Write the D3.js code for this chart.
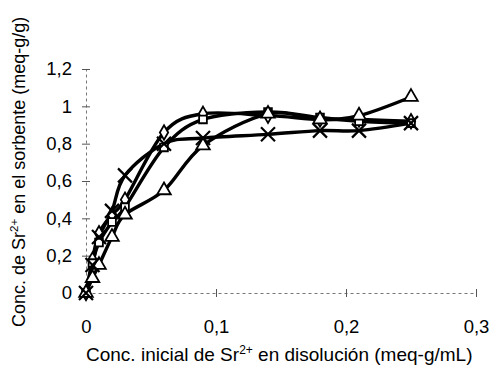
<!DOCTYPE html>
<html>
<head>
<meta charset="utf-8">
<script src="https://cdn.jsdelivr.net/npm/d3@7"></script>
<style>
  body { margin: 0; background: #fff; }
  svg { font-family: "Liberation Sans", Arial, sans-serif; }
</style>
</head>
<body>
<svg id="chart" width="497" height="369"></svg>
<script>
// initial concentration (meq-g/mL)
const conc = [0, 0.005, 0.01, 0.02, 0.03, 0.06, 0.09, 0.14, 0.18, 0.21, 0.25];

// sorbed concentration per sorbent (meq-g/g)
const diamondVals = [0, 0.18, 0.32, 0.42, 0.50, 0.86, 0.96, 0.95, 0.93, 0.93, 0.92];
const squareVals = [0, 0.16, 0.27, 0.38, 0.46, 0.78, 0.93, 0.97, 0.94, 0.92, 0.91];
const triangleVals = [0, 0.08, 0.15, 0.30, 0.42, 0.55, 0.79, 0.96, 0.93, 0.95, 1.05];
const crossVals = [0, 0.15, 0.30, 0.44, 0.63, 0.80, 0.83, 0.85, 0.87, 0.87, 0.91];

const xTicks = [0, 0.1, 0.2, 0.3];
const yTicks = [0, 0.2, 0.4, 0.6, 0.8, 1, 1.2];

const series = [
  { name: 'diamond', values: diamondVals, symbol: d3.symbolDiamond },
  { name: 'square', values: squareVals, symbol: d3.symbolSquare },
  { name: 'triangle', values: triangleVals, symbol: d3.symbolTriangle },
  { name: 'cross', values: crossVals, symbol: null }
];

const svg = d3.select('#chart');
const fmt = v => String(v).replace('.', ',');

const x = d3.scaleLinear().domain([0, 0.3]).range([86, 476]);
const y = d3.scaleLinear().domain([0, 1.2]).range([293, 69]);

// axes, faint dotted like the scan
const xAxis = svg.append('g')
  .attr('transform', `translate(0,${y(0)})`)
  .call(d3.axisBottom(x).tickValues(xTicks).tickFormat(fmt).tickSizeInner(4).tickSizeOuter(0).tickPadding(23));
const yAxis = svg.append('g')
  .attr('transform', `translate(${x(0)},0)`)
  .call(d3.axisLeft(y).tickValues(yTicks).tickFormat(fmt).tickSizeInner(4).tickSizeOuter(0).tickPadding(10));

[xAxis, yAxis].forEach(g => {
  g.select('.domain').attr('stroke', '#777').attr('stroke-dasharray', '3,3');
  g.selectAll('.tick line').attr('stroke', '#555');
  g.selectAll('.tick text').attr('font-size', 18.5).attr('fill', '#000');
});
// ticks cross the axis
xAxis.selectAll('.tick line').attr('y1', -4);
yAxis.selectAll('.tick line').attr('x1', 4);
xAxis.selectAll('.tick').filter(d => d === 0).select('line').remove();
yAxis.selectAll('.tick').filter(d => d === 0).select('line').remove();

const line = d3.line()
  .x((d, i) => x(conc[i]))
  .y(d => y(d))
  .curve(d3.curveCardinal.tension(0));

series.forEach(s => {
  svg.append('path')
    .datum(s.values)
    .attr('fill', 'none')
    .attr('stroke', '#000')
    .attr('stroke-width', 3.4)
    .attr('d', line);
});

series.forEach(s => {
  const g = svg.append('g');
  s.values.forEach((v, i) => {
    const px = x(conc[i]), py = y(v);
    if (s.symbol) {
      g.append('path')
        .attr('d', d3.symbol().type(s.symbol).size(s.name === 'triangle' ? 80 : 60)())
        .attr('transform', `translate(${px},${py})`)
        .attr('fill', '#fff')
        .attr('stroke', '#000')
        .attr('stroke-width', 1.8);
    } else {
      g.append('path')
        .attr('d', `M-7,-7L7,7M-7,7L7,-7`)
        .attr('transform', `translate(${px},${py})`)
        .attr('stroke', '#000')
        .attr('stroke-width', 2.2);
    }
  });
});

// axis titles
const xt = svg.append('text')
  .attr('x', 86).attr('y', 361)
  .attr('text-anchor', 'start')
  .attr('font-size', 19);
xt.append('tspan').text('Conc. inicial de Sr');
xt.append('tspan').attr('dy', -7).attr('font-size', 12).text('2+');
xt.append('tspan').attr('dy', 7).text(' en disolución (meq-g/mL)');

const yt = svg.append('text')
  .attr('transform', 'translate(25,327) rotate(-90)')
  .attr('text-anchor', 'start')
  .attr('font-size', 18);
yt.append('tspan').text('Conc. de Sr');
yt.append('tspan').attr('dy', -7).attr('font-size', 11.5).text('2+');
yt.append('tspan').attr('dy', 7).text(' en el sorbente (meq-g/g)');
</script>
</body>
</html>
